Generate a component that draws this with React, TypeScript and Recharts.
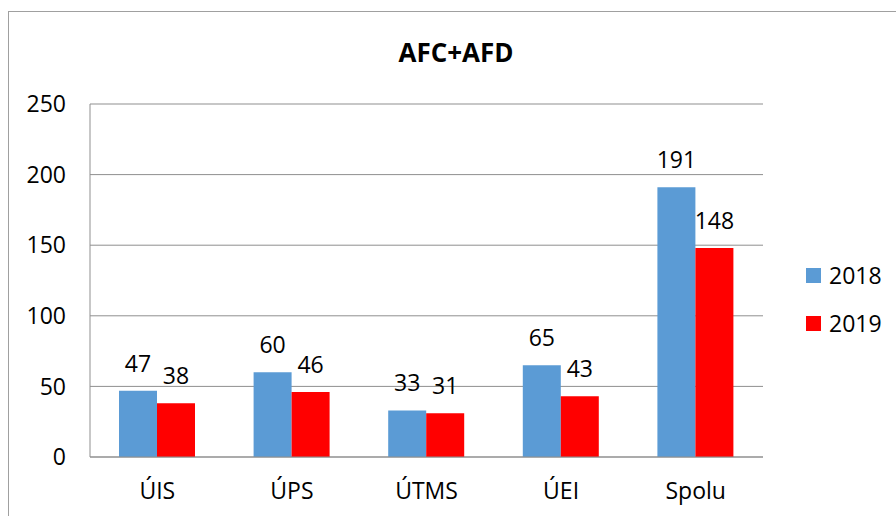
import { BarChart, Bar, XAxis, YAxis, CartesianGrid, LabelList } from "recharts";

const categories = ["ÚIS", "ÚPS", "ÚTMS", "ÚEI", "Spolu"];
const values2018 = [47, 60, 33, 65, 191];
const values2019 = [38, 46, 31, 43, 148];
const yTicks = [0, 50, 100, 150, 200, 250];
const series = [
  { key: "y2018", name: "2018", color: "#5B9BD5" },
  { key: "y2019", name: "2019", color: "#FF0000" },
];

const FONT = "'Open Sans', sans-serif";
const GRID = "#8f8f8f";

const data = categories.map((c, i) => ({
  name: c,
  y2018: values2018[i],
  y2019: values2019[i],
}));

export default function App() {
  return (
    <div
      style={{
        position: "absolute",
        left: 8,
        top: 11,
        width: 900,
        height: 510,
        border: "1px solid #a0a0a0",
        fontFamily: FONT,
        background: "#fff",
      }}
    >
      <div
        style={{
          position: "absolute",
          left: 0,
          top: 27,
          width: 894,
          textAlign: "center",
          fontSize: 26,
          lineHeight: "26px",
          fontWeight: 700,
          color: "#000",
        }}
      >
        AFC+AFD
      </div>

      <BarChart
        width={900}
        height={510}
        data={data}
        margin={{ top: 92, right: 146, bottom: 35, left: 0 }}
        barGap={0}
        barSize={38}
      >
        <CartesianGrid vertical={false} stroke={GRID} strokeWidth={1} />
        <XAxis
          dataKey="name"
          height={30}
          axisLine={{ stroke: GRID }}
          tickLine={false}
          tickSize={0}
          tickMargin={26}
          tick={{ fill: "#000", fontSize: 23, fontFamily: FONT }}
        />
        <YAxis
          width={81}
          domain={[0, 250]}
          ticks={yTicks}
          axisLine={{ stroke: GRID }}
          tickLine={false}
          tickSize={0}
          tickMargin={24}
          tick={{ fill: "#000", fontSize: 23, fontFamily: FONT }}
        />
        {series.map((s) => (
          <Bar key={s.key} dataKey={s.key} name={s.name} fill={s.color} isAnimationActive={false}>
            <LabelList
              dataKey={s.key}
              position="top"
              offset={19}
              style={{ fill: "#000", fontSize: 23, fontFamily: FONT }}
            />
          </Bar>
        ))}
      </BarChart>

      {series.map((s, i) => (
        <div
          key={s.key}
          style={{
            position: "absolute",
            left: 797,
            top: 252 + i * 48,
            height: 23,
            display: "flex",
            alignItems: "center",
            fontSize: 23,
            lineHeight: "23px",
            color: "#000",
          }}
        >
          <span style={{ width: 15, height: 15, background: s.color, marginRight: 8, display: "inline-block" }} />
          {s.name}
        </div>
      ))}
    </div>
  );
}
